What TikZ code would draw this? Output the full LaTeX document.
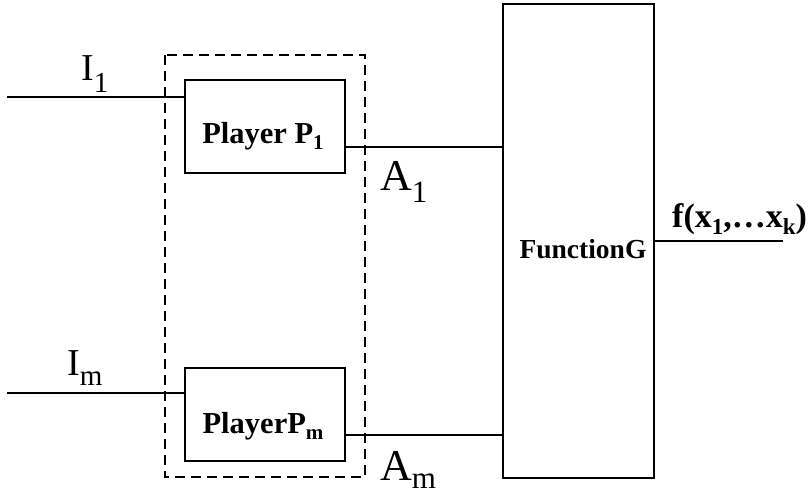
\documentclass[tikz,border=0pt]{standalone}
\usepackage{fontspec}
\setmainfont{Liberation Serif}
\newcommand{\mysub}[3]{\raisebox{-#1pt}{\fontsize{#2}{#2}\selectfont #3}}
\begin{document}
\begin{tikzpicture}[x=1pt,y=-1pt,
  wire/.style={line width=2pt},
  blk/.style={draw,line width=2pt,inner sep=0pt},
  dbox/.style={draw,line width=2pt,dash pattern=on 10pt off 6pt},
  lab/.style={inner sep=0pt,anchor=base west},
  boldlab/.style={inner sep=0pt,anchor=base,font=\bfseries\fontsize{30.5}{30.5}\selectfont}]
\useasboundingbox (0,0) rectangle (812,496);
% dashed group
\draw[dbox] (165,55) rectangle (365,477);
% boxes
\node[blk,minimum width=160pt,minimum height=93pt] (p1) at (265,126.5) {};
\node[blk,minimum width=160pt,minimum height=93pt] (pm) at (265,414.5) {};
\node[blk,minimum width=151pt,minimum height=474pt] (g) at (578.5,241) {};
% texts in boxes
\node[boldlab] (t1) at (263,143) {Player P\mysub{6}{21}{1}};
\node[boldlab] (tm) at (263,433) {PlayerP\mysub{6}{21}{m}};
\node[inner sep=0pt,anchor=base,font=\bfseries\fontsize{27.5}{27.5}\selectfont] (tg) at (583,258) {FunctionG};
% wires
\coordinate (i1s) at (7,97);
\coordinate (ims) at (7,393);
\coordinate (outE) at (783,241);
\draw[wire] (i1s) -- (i1s -| p1.west);
\draw[wire] (ims) -- (ims -| pm.west);
\draw[wire] (p1.east |- 0,147) -- (g.west |- 0,147);
\draw[wire] (pm.east |- 0,435) -- (g.west |- 0,435);
\draw[wire] (g.east |- outE) -- (outE);
% labels
\node[lab,font=\fontsize{38}{38}\selectfont] (li1) at (81,80) {I\mysub{12}{29}{1}};
\node[lab,font=\fontsize{38}{38}\selectfont] (lim) at (67,375) {I\mysub{10}{29}{m}};
\node[lab,font=\fontsize{44}{44}\selectfont] (la1) at (380,190) {A\mysub{12}{31}{1}};
\node[lab,font=\fontsize{44}{44}\selectfont] (lam) at (380,480) {A\mysub{8}{31}{m}};
\node[lab,font=\bfseries\fontsize{34}{34}\selectfont] (lf) at (672,227) {f(x\mysub{7}{23}{1},\dots x\mysub{7}{23}{k})};
\end{tikzpicture}
\end{document}
